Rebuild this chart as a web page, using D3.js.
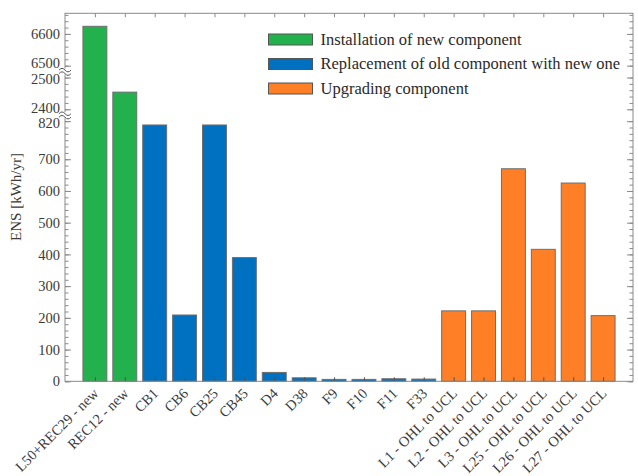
<!DOCTYPE html>
<html>
<head>
<meta charset="utf-8">
<script src="https://cdn.jsdelivr.net/npm/d3@7"></script>
<style>
    body { margin: 0; background: #fff; }
    #chart-container text { font-family: "Liberation Serif", "Times New Roman", serif; }
</style>
</head>
<body>
<div id="chart-container"></div>
<script>
// categories on x axis
const CATEGORIES = [
    "L50+REC29 - new", "REC12 - new", "CB1", "CB6", "CB25", "CB45", "D4", "D38",
    "F9", "F10", "F11", "F33", "L1 - OHL to UCL", "L2 - OHL to UCL", "L3 - OHL to UCL",
    "L25 - OHL to UCL", "L26 - OHL to UCL", "L27 - OHL to UCL"
];

// ENS values in kWh/yr
const VALUES = [6624, 2454, 808, 209, 808, 390, 28, 11, 6, 6, 8, 7, 222, 222, 670, 416, 625, 207];

// series index of each bar
const GROUPS = [0, 0, 1, 1, 1, 1, 1, 1, 1, 1, 1, 1, 2, 2, 2, 2, 2, 2];

// legend labels
const SERIES = [
    "Installation of new component",
    "Replacement of old component with new one",
    "Upgrading component"
];

// y axis labelled ticks
const Y_TICKS = [0, 100, 200, 300, 400, 500, 600, 700, 820, 2400, 2500, 6500, 6600];

// broken axis segments
const SEGMENTS = [[0, 820], [2400, 2500], [6500, 6665]];

function drawChart() {
    const width = 638, height = 476;
    const left = 65, right = 633, top = 13.3, bottom = 381.3;
    const gap = 11.9; // space for each axis break

    const svg = d3.select("#chart-container")
        .append("svg")
        .attr("width", width)
        .attr("height", height);

    // piecewise y scale, same px per unit in every segment
    const k = (bottom - top - gap * 2) / d3.sum(SEGMENTS, s => s[1] - s[0]);
    const yDomain = [], yRange = [];
    let pos = bottom;
    SEGMENTS.forEach((s, i) => {
        if (i > 0) pos -= gap;
        yDomain.push(s[0]); yRange.push(pos);
        pos -= (s[1] - s[0]) * k;
        yDomain.push(s[1]); yRange.push(pos);
    });
    const y = d3.scaleLinear().domain(yDomain).range(yRange);

    // x scale, one slot per bar
    const x = d3.scalePoint()
        .domain(CATEGORIES)
        .range([left, right])
        .padding(1);
    const barWidth = x.step() * 0.8;

    const color = d3.scaleOrdinal()
        .domain([0, 1, 2])
        .range(["#22b14c", "#0070c0", "#ff7f27"]);

    // minor ticks every 20 in each segment
    const minor = [];
    SEGMENTS.forEach(s => d3.range(s[0], s[1] + 0.1, 20).forEach(v => minor.push(v)));

    const axisColor = "#8a8a8a";
    const textColor = "#3a3a3a";

    // bars
    svg.append("g")
        .selectAll("rect")
        .data(VALUES)
        .enter()
        .append("rect")
        .attr("x", (d, i) => x(CATEGORIES[i]) - barWidth / 2)
        .attr("y", d => y(d))
        .attr("width", barWidth)
        .attr("height", d => y(0) - y(d))
        .attr("fill", (d, i) => color(GROUPS[i]))
        .attr("stroke", "#6e6e6e")
        .attr("stroke-width", 1);

    // left axis, major
    // labels next to a break are nudged apart a little, like the original
    const nudge = { 6500: -2.5, 2500: 1, 2400: -1.5, 820: 1.5 };
    const leftAxis = svg.append("g")
        .attr("transform", `translate(${left},0)`)
        .call(d3.axisLeft(y).tickValues(Y_TICKS).tickFormat(d3.format("d"))
            .tickSizeInner(-6).tickSizeOuter(0).tickPadding(5));
    leftAxis.select(".domain").remove();
    leftAxis.selectAll("line").attr("stroke", axisColor);
    leftAxis.selectAll("text")
        .attr("fill", textColor)
        .style("font-size", "14.5px")
        .attr("y", d => nudge[d] || 0);

    // left axis, minor
    const leftMinor = svg.append("g")
        .attr("transform", `translate(${left},0)`)
        .call(d3.axisLeft(y).tickValues(minor).tickSize(-3.5).tickFormat(""));
    leftMinor.select(".domain").remove();
    leftMinor.selectAll("line").attr("stroke", axisColor);

    // right axis, mirrored ticks without labels
    [[Y_TICKS, -6], [minor, -3.5]].forEach(([vals, size]) => {
        const g = svg.append("g")
            .attr("transform", `translate(${right},0)`)
            .call(d3.axisRight(y).tickValues(vals).tickSize(size).tickFormat(""));
        g.select(".domain").remove();
        g.selectAll("line").attr("stroke", axisColor);
    });

    // top axis ticks
    const topAxis = svg.append("g")
        .attr("transform", `translate(0,${top})`)
        .call(d3.axisTop(x).tickSize(-4).tickFormat(""));
    topAxis.select(".domain").remove();
    topAxis.selectAll("line").attr("stroke", axisColor);

    // bottom axis with rotated labels
    const bottomAxis = svg.append("g")
        .attr("transform", `translate(0,${bottom})`)
        .call(d3.axisBottom(x).tickSize(-4).tickSizeOuter(0));
    bottomAxis.select(".domain").remove();
    bottomAxis.selectAll("line").attr("stroke", "#505050");
    bottomAxis.selectAll("text")
        .attr("fill", textColor)
        .style("font-size", "14.5px")
        .attr("text-anchor", "end")
        .attr("dy", null)
        .attr("y", null)
        .attr("transform", "translate(4,13) rotate(-45)");

    // frame
    svg.append("rect")
        .attr("x", left)
        .attr("y", top)
        .attr("width", right - left)
        .attr("height", bottom - top)
        .attr("fill", "none")
        .attr("stroke", axisColor)
        .attr("stroke-width", 1);

    // break marks on left axis
    for (let i = 1; i < SEGMENTS.length; i++) {
        const yb = (y(SEGMENTS[i - 1][1]) + y(SEGMENTS[i][0])) / 2;
        const wave = dy => `M${left - 6},${yb + dy} q3,-3.5 6,0 t6,0`;
        svg.append("rect")
            .attr("x", left - 1)
            .attr("y", yb - 3)
            .attr("width", 2)
            .attr("height", 6)
            .attr("fill", "#fff");
        [-1.5, 2].forEach(dy => {
            svg.append("path")
                .attr("d", wave(dy))
                .attr("fill", "none")
                .attr("stroke", "#555")
                .attr("stroke-width", 1);
        });
    }

    // y axis title
    svg.append("text")
        .attr("transform", "translate(21,197) rotate(-90)")
        .attr("text-anchor", "middle")
        .attr("fill", textColor)
        .style("font-size", "15px")
        .text("ENS [kWh/yr]");

    // legend
    const legend = svg.append("g")
        .selectAll("g")
        .data(SERIES)
        .enter()
        .append("g")
        .attr("transform", (d, i) => `translate(268.5,${39.5 + i * 24.5})`);
    legend.append("rect")
        .attr("x", 0)
        .attr("y", -5.5)
        .attr("width", 44)
        .attr("height", 11)
        .attr("fill", (d, i) => color(i))
        .attr("stroke", "#555")
        .attr("stroke-width", 1);
    legend.append("text")
        .attr("x", 52)
        .attr("dy", "0.32em")
        .attr("fill", "#2a2a2a")
        .style("font-size", "16.5px")
        .text(d => d);
}

window.onload = () => {
    drawChart();
};
</script>
</body>
</html>
